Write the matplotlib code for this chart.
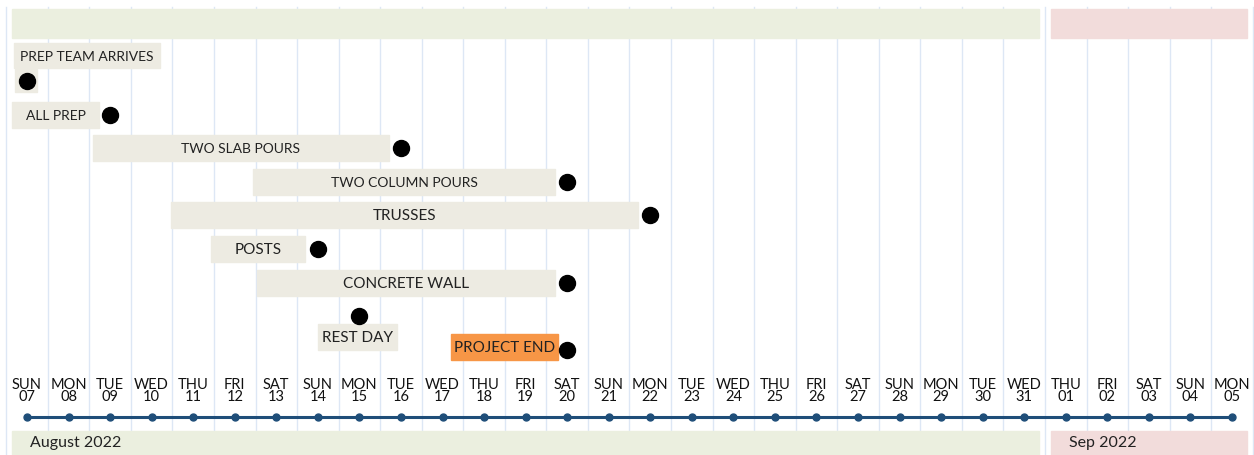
import numpy as np
import pandas as pd
import matplotlib
matplotlib.use("Agg")
from matplotlib import pyplot as plt
from matplotlib.patches import Rectangle

plt.rcParams["font.family"] = ["Lato", "DejaVu Sans"]

# timeline span
first_day = "2022-08-07"
last_day = "2022-09-05"

# tasks: name, milestone date, label box start/end (days from first_day), row
tasks = ["PREP TEAM ARRIVES", "ALL PREP", "TWO SLAB POURS", "TWO COLUMN POURS",
         "TRUSSES", "POSTS", "CONCRETE WALL", "REST DAY", "PROJECT END"]
due = ["2022-08-07", "2022-08-09", "2022-08-16", "2022-08-20", "2022-08-22",
       "2022-08-14", "2022-08-20", "2022-08-15", "2022-08-20"]
box_start = [-0.31, -0.36, 1.59, 5.44, 3.47, 4.43, 5.54, 7.0, 10.2]
box_end = [3.20, 1.73, 8.71, 12.71, 14.71, 6.69, 12.71, 8.9, 12.78]
dot_row = [0, 1, 2, 3, 4, 5, 6, 7, 8]
box_row = [-0.75, 1, 2, 3, 4, 5, 6, 7.63, 7.92]
label_size = [10, 10, 10, 10, 11, 11, 11, 11, 11]
months = ["August 2022", "Sep 2022"]

BOX = "#edebe2"
END = "#f79646"
AUG = "#ebefdf"
SEP = "#f2dcdb"
LINE = "#1f4e79"
GRID = "#dde7f5"
TXT = "#222222"

days = pd.date_range(first_day, last_day)
start = pd.Timestamp(first_day)
x_days = np.arange(len(days))
day_names = [d.strftime("%a").upper() for d in days]
day_nums = [d.strftime("%d") for d in days]

fig = plt.figure(figsize=(12.54, 4.56), dpi=100)
ax = fig.add_axes([0, 0, 1, 1])
ax.set_xlim(-0.65, 29.53)
ax.set_ylim(11.131, -2.44)
ax.axis("off")

# grid between days
for x in np.arange(len(days) + 1) - 0.5:
    ax.axvline(x, ymin=0, ymax=0.982, color=GRID, lw=1, zorder=0)

# month bands top and bottom
month_idx = [(days.month == m) for m in sorted(set(days.month))]
for name, mask, col in zip(months, month_idx, [AUG, SEP]):
    lo = x_days[mask].min() - 0.35
    hi = x_days[mask].max() + 0.35
    ax.add_patch(Rectangle((lo, -2.143), hi - lo, 0.863, color=col, zorder=1))
    ax.add_patch(Rectangle((lo, 10.42), hi - lo, 1.0, color=col, zorder=1))
    ax.text(lo + 0.42, 10.74, name, fontsize=11.5, va="center", ha="left",
            color=TXT, zorder=3)

# task boxes, labels and milestones
for i, name in enumerate(tasks):
    col = END if name == "PROJECT END" else BOX
    h = 0.74 if i == 0 else 0.77
    ax.add_patch(Rectangle((box_start[i], box_row[i] - h / 2),
                           box_end[i] - box_start[i], h, color=col, zorder=2))
    ax.text((box_start[i] + box_end[i]) / 2, box_row[i], name,
            fontsize=label_size[i], ha="center", va="center",
            color=TXT, zorder=3)
    x = (pd.Timestamp(due[i]) - start).days
    ax.plot(x, dot_row[i], "o", color="black", ms=11.5, zorder=4)

# small pad behind the first milestone
x0 = (pd.Timestamp(due[0]) - start).days
ax.add_patch(Rectangle((x0 - 0.29, -0.36), 0.53, 0.69, color=BOX, zorder=2))

# timeline axis
ax.plot(x_days, np.full(len(days), 10.0), "-o", color=LINE, lw=2.2, ms=5,
        zorder=3)
for x, dn, num in zip(x_days, day_names, day_nums):
    ax.text(x, 9.2, dn + "\n" + num, fontsize=10.5, ha="center", va="center",
            linespacing=0.8, color="#111111", zorder=3)

fig.savefig("out.png", dpi=100)
